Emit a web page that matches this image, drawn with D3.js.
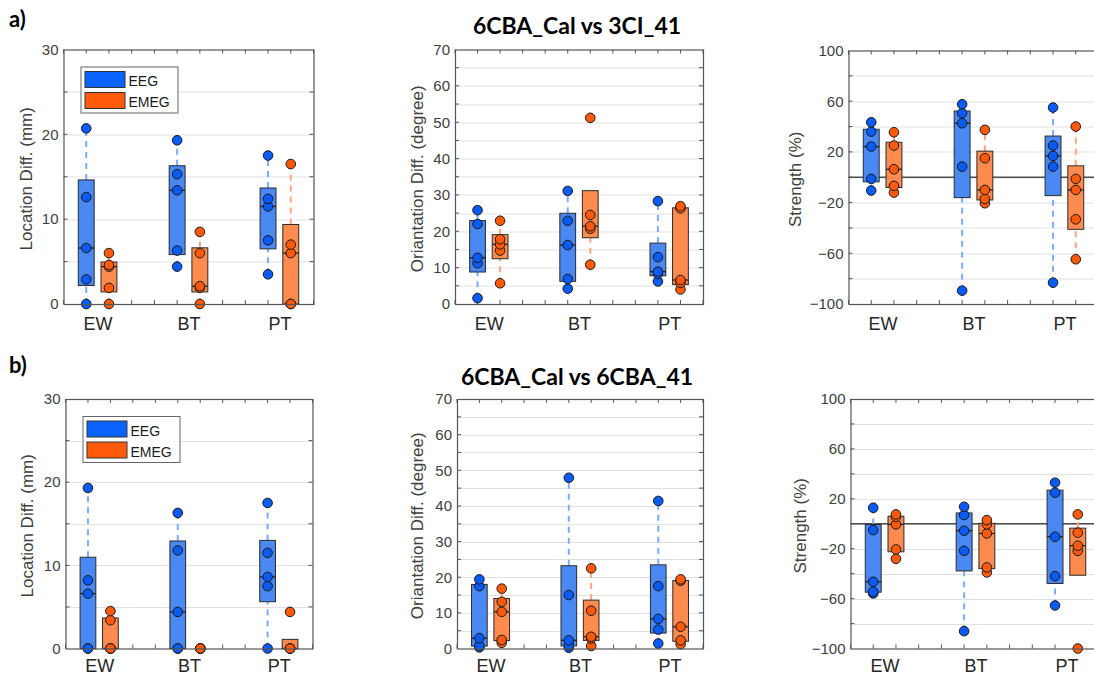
<!DOCTYPE html>
<html>
<head>
<meta charset="utf-8">
<script src="https://cdn.jsdelivr.net/npm/d3@7"></script>
<style>
  body { margin: 0; background: #fff; }
  svg { display: block; }
</style>
</head>
<body>
<svg id="fig" width="1094" height="677"></svg>
<script>
// ---- data -------------------------------------------------------------
const categories = ["EW", "BT", "PT"];
const groups = ["EEG", "EMEG"];

// per-subject values for each condition (EW, BT, PT), 5 subjects each
// a) 6CBA_Cal vs 3CI_41
const locA_EEG  = [[0, 2.9, 6.6, 12.6, 20.7], [4.4, 6.3, 13.4, 15.3, 19.3], [3.5, 7.5, 11.5, 12.4, 17.5]];
const locA_EMEG = [[0, 1.9, 4.4, 4.6, 6.0], [0, 1.9, 2.1, 6.0, 8.5], [0, 0, 6.0, 7.0, 16.5]];
const oriA_EEG  = [[1.6, 11.2, 12.7, 22.0, 25.8], [4.2, 6.9, 16.2, 22.9, 31.1], [6.2, 8.3, 8.9, 12.9, 28.3]];
const oriA_EMEG = [[5.7, 14.7, 16.4, 17.8, 22.9], [10.8, 20.7, 21.4, 24.5, 51.2], [4.0, 5.8, 6.6, 26.3, 26.9]];
const strA_EEG  = [[-10.5, -1.3, 24.2, 36.0, 43.4], [-89.5, 8.4, 42.6, 50.5, 57.6], [-83.2, 8.4, 16.8, 25.0, 55.0]];
const strA_EMEG = [[-12.1, -6.8, 6.3, 25.0, 35.5], [-20.5, -17.1, -10.0, 15.0, 37.4], [-64.7, -33.2, -10.0, -1.3, 40.0]];

// b) 6CBA_Cal vs 6CBA_41
const locB_EEG  = [[0, 0, 6.6, 8.2, 19.3], [0, 0, 4.4, 11.8, 16.3], [0, 7.5, 8.6, 11.5, 17.5]];
const locB_EMEG = [[0, 0, 0, 3.4, 4.5], [0, 0, 0, 0, 0], [0, 0, 0, 0, 4.4]];
const oriB_EEG  = [[0.3, 0.8, 2.9, 17.5, 19.4], [0.2, 0.9, 2.3, 15.0, 47.9], [1.4, 5.3, 8.3, 17.5, 41.4]];
const oriB_EMEG = [[1.6, 2.4, 10.3, 13.1, 16.8], [0.7, 2.8, 3.3, 10.6, 22.5], [1.2, 2.3, 6.1, 19.0, 19.4]];
const strB_EEG  = [[-55.9, -54.5, -46.5, -5.1, 12.8], [-86.1, -21.7, -5.6, 7.0, 13.6], [-65.5, -42.0, -10.4, 24.9, 32.9]];
const strB_EMEG = [[-28.1, -20.6, -0.5, 5.6, 7.5], [-39.0, -35.0, -7.8, -0.5, 2.9], [-100, -21.7, -17.6, -7.2, 7.5]];

// tick labels
const locTicks = [0, 10, 20, 30];
const oriTicks = [0, 10, 20, 30, 40, 50, 60, 70];
const strTicks = [-100, -60, -20, 20, 60, 100];

const rowLabels = ["a)", "b)"];
const rowTitles = ["6CBA_Cal vs 3CI_41", "6CBA_Cal vs 6CBA_41"];

// ---- styling ----------------------------------------------------------
const colors = {
  EEG:  { box: "#4a88f3", point: "#0a5af5", whisker: "#7eaaff", swatch: "#0a62ff" },
  EMEG: { box: "#ff8b4e", point: "#ff5a0c", whisker: "#ffa57e", swatch: "#ff5a0c" }
};
const axisFont = "'Liberation Sans', Arial, sans-serif";
const titleFont = "Lato, 'Open Sans', sans-serif";
const textColor = "#404040";

// ---- layout -----------------------------------------------------------
const panels = [
  { left: 63.5,  top: 49.5, w: 250, h: 254.5, domain: [0, 30],     grid: 5,  ticks: locTicks, label: "Location Diff. (mm)",        labelDx: -37, xPad: 13, eeg: locA_EEG, emeg: locA_EMEG, legend: true },
  { left: 455,   top: 49.5, w: 248, h: 254.5, domain: [0, 70],     grid: 5,  ticks: oriTicks, label: "Oriantation Diff. (degree)", labelDx: -38, xPad: 13, eeg: oriA_EEG, emeg: oriA_EMEG },
  { left: 848.5, top: 50.5, w: 250, h: 253.5, domain: [-100, 100], grid: 20, ticks: strTicks, label: "Strength (%)",               labelDx: -53, xPad: 13, eeg: strA_EEG, emeg: strA_EMEG, zero: true },
  { left: 65.5,  top: 399,  w: 247, h: 249.5, domain: [0, 30],     grid: 5,  ticks: locTicks, label: "Location Diff. (mm)",        labelDx: -38, xPad: 11, eeg: locB_EEG, emeg: locB_EMEG, legend: true },
  { left: 457,   top: 399,  w: 246, h: 249.5, domain: [0, 70],     grid: 5,  ticks: oriTicks, label: "Oriantation Diff. (degree)", labelDx: -40, xPad: 11, eeg: oriB_EEG, emeg: oriB_EMEG },
  { left: 850.5, top: 399,  w: 250, h: 249.5, domain: [-100, 100], grid: 20, ticks: strTicks, label: "Strength (%)",               labelDx: -50, xPad: 11, eeg: strB_EEG, emeg: strB_EMEG, zero: true }
];

// MATLAB-style percentile (linear interpolation, midpoint plotting positions)
function prctile(sorted, p) {
  const n = sorted.length;
  const pos = n * p / 100 + 0.5;
  if (pos <= 1) return sorted[0];
  if (pos >= n) return sorted[n - 1];
  const i = Math.floor(pos), f = pos - i;
  return sorted[i - 1] + f * (sorted[i] - sorted[i - 1]);
}

const svg = d3.select("#fig");

// row labels and titles
svg.selectAll("text.rowlabel").data(rowLabels).join("text")
  .attr("class", "rowlabel")
  .attr("x", 9).attr("y", (d, i) => i === 0 ? 27 : 373)
  .attr("font-family", titleFont).attr("font-weight", 700).attr("font-size", 22)
  .attr("fill", "#000").text(d => d);

svg.selectAll("text.rowtitle").data(rowTitles).join("text")
  .attr("class", "rowtitle")
  .attr("x", 577).attr("y", (d, i) => i === 0 ? 33.5 : 385)
  .attr("text-anchor", "middle")
  .attr("font-family", titleFont).attr("font-weight", 700).attr("font-size", 23)
  .attr("fill", "#000").text(d => d);

panels.forEach(p => {
  const g = svg.append("g").attr("transform", `translate(${p.left},${p.top})`);
  const x = d3.scaleLinear().domain([0.625, 3.375]).range([0, p.w]);
  const y = d3.scaleLinear().domain(p.domain).range([p.h, 0]);

  // background
  g.append("rect").attr("width", p.w).attr("height", p.h).attr("fill", "#fff");

  // horizontal grid
  const gridVals = d3.range(p.domain[0] + p.grid, p.domain[1] - 1e-9, p.grid);
  g.append("g").selectAll("line").data(gridVals).join("line")
    .attr("x1", 0).attr("x2", p.w)
    .attr("y1", d => Math.round(y(d)) + 0.5).attr("y2", d => Math.round(y(d)) + 0.5)
    .attr("stroke", "#e1e1e1").attr("stroke-width", 1);

  // zero reference line
  if (p.zero) {
    g.append("line").attr("x1", 0).attr("x2", p.w)
      .attr("y1", y(0)).attr("y2", y(0))
      .attr("stroke", "#4d4d4d").attr("stroke-width", 1.6);
  }

  // inner ticks on all four sides
  const minorX = d3.range(0.625, 3.3751, 0.25);
  const tk = g.append("g").attr("stroke", "#555").attr("stroke-width", 1);
  tk.selectAll("line.tt").data(minorX).join("line").attr("class", "tt")
    .attr("x1", d => x(d)).attr("x2", d => x(d)).attr("y1", 0).attr("y2", 4);
  tk.selectAll("line.tb").data(minorX).join("line").attr("class", "tb")
    .attr("x1", d => x(d)).attr("x2", d => x(d)).attr("y1", p.h).attr("y2", p.h - 4);
  tk.selectAll("line.tl").data(gridVals).join("line").attr("class", "tl")
    .attr("x1", 0).attr("x2", 4).attr("y1", d => y(d)).attr("y2", d => y(d));
  tk.selectAll("line.tr").data(gridVals).join("line").attr("class", "tr")
    .attr("x1", p.w).attr("x2", p.w - 4).attr("y1", d => y(d)).attr("y2", d => y(d));

  // boxes, whiskers (1.5 IQR), medians and subject points
  categories.forEach((cat, ci) => {
    groups.forEach((grp, gi) => {
      const vals = (gi === 0 ? p.eeg : p.emeg)[ci].slice().sort(d3.ascending);
      const cx = x(ci + 1 + (gi === 0 ? -0.125 : 0.125));
      const half = x(0.625 + 0.0875) - x(0.625);
      const q1 = prctile(vals, 25), med = prctile(vals, 50), q3 = prctile(vals, 75);
      const iqr = q3 - q1;
      const inside = vals.filter(v => v >= q1 - 1.5 * iqr && v <= q3 + 1.5 * iqr);
      const wLo = d3.min(inside), wHi = d3.max(inside);
      const col = colors[grp];
      const bg = g.append("g");
      const seg = [];
      if (wHi > q3) seg.push([q3, wHi]);
      if (wLo < q1) seg.push([wLo, q1]);
      bg.selectAll("line.wh").data(seg).join("line").attr("class", "wh")
        .attr("x1", cx).attr("x2", cx)
        .attr("y1", d => y(d[0])).attr("y2", d => y(d[1]))
        .attr("stroke", col.whisker).attr("stroke-width", 2)
        .attr("stroke-dasharray", "6,5");
      if (q3 > q1) {
        bg.append("rect")
          .attr("x", cx - half).attr("width", 2 * half)
          .attr("y", y(q3)).attr("height", y(q1) - y(q3))
          .attr("fill", col.box).attr("stroke", "#2b2b2b").attr("stroke-width", 1);
        bg.append("line")
          .attr("x1", cx - half).attr("x2", cx + half)
          .attr("y1", y(med)).attr("y2", y(med))
          .attr("stroke", "#1a1a1a").attr("stroke-width", 1.2);
      }
      bg.selectAll("circle").data(vals).join("circle")
        .attr("cx", cx).attr("cy", d => y(d)).attr("r", 4.8)
        .attr("fill", col.point).attr("stroke", "#1a1a1a").attr("stroke-width", 1);
    });
  });

  // frame
  g.append("rect").attr("x", 0.5).attr("y", 0.5).attr("width", p.w).attr("height", p.h)
    .attr("fill", "none").attr("stroke", "#555").attr("stroke-width", 1.2);

  // y axis labels
  const yAxis = g.append("g")
    .call(d3.axisLeft(y).tickValues(p.ticks).tickSize(0).tickPadding(5).tickFormat(d3.format("d")));
  yAxis.select(".domain").remove();
  yAxis.selectAll("text").attr("font-family", axisFont).attr("font-size", 15).attr("fill", textColor);

  // x axis category labels
  const xAxis = g.append("g").attr("transform", `translate(0,${p.h})`)
    .call(d3.axisBottom(x).tickValues([1, 2, 3]).tickSize(0).tickPadding(p.xPad)
      .tickFormat((d, i) => categories[i]));
  xAxis.select(".domain").remove();
  xAxis.selectAll("text").attr("font-family", axisFont).attr("font-size", 18).attr("fill", "#262626");

  // y axis title
  g.append("text")
    .attr("transform", `translate(${p.labelDx},${p.h / 2 + 2}) rotate(-90)`)
    .attr("text-anchor", "middle").attr("dy", "0.35em")
    .attr("font-family", axisFont).attr("font-size", 17).attr("fill", textColor)
    .text(p.label);

  // legend
  if (p.legend) {
    const lg = g.append("g").attr("transform", "translate(17,17)");
    lg.append("rect").attr("x", 0.5).attr("y", 0.5).attr("width", 97).attr("height", 46)
      .attr("fill", "#fff").attr("stroke", "#666").attr("stroke-width", 1);
    groups.forEach((grp, gi) => {
      lg.append("rect").attr("x", 4.5).attr("y", 5 + gi * 21).attr("width", 40).attr("height", 16)
        .attr("fill", colors[grp].swatch).attr("stroke", "#333").attr("stroke-width", 1);
      lg.append("text").attr("x", 48).attr("y", 19.5 + gi * 21)
        .attr("font-family", axisFont).attr("font-size", 14).attr("fill", "#1a1a1a")
        .text(grp);
    });
  }
});
</script>
</body>
</html>
